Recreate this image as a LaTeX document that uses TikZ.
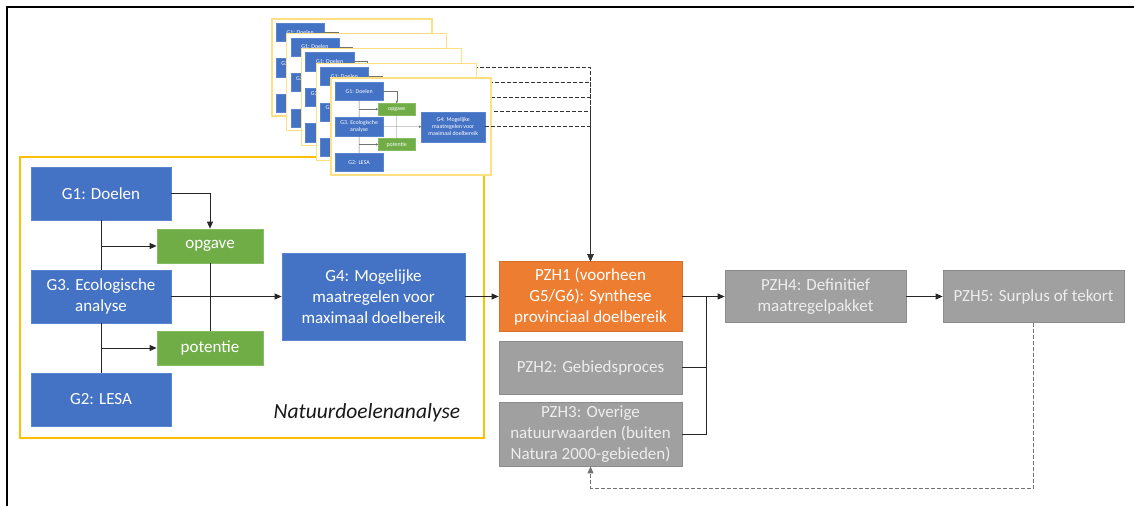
\documentclass[tikz,border=0pt]{standalone}
\usepackage{fontspec}
\setmainfont{Carlito}
\usetikzlibrary{arrows.meta,calc}
\definecolor{gblue}{HTML}{4472C4}
\definecolor{gbluebd}{HTML}{5B84CF}
\definecolor{ggreen}{HTML}{70AD47}
\definecolor{ggreenbd}{HTML}{86BC62}
\definecolor{gorange}{HTML}{ED7D31}
\definecolor{ggray}{HTML}{A0A0A0}
\definecolor{ggraybd}{HTML}{8C8C8C}
\definecolor{gyellow}{HTML}{FFC000}
\definecolor{gyellowlt}{HTML}{FFDF80}
\newcommand\tOpgave{opgave}
\newcommand\tPotentie{potentie}
\newcommand\tGfour{G4: Mogelijke\\maatregelen voor\\maximaal doelbereik}
\newcommand\ndadiagram{%
  \node[bbox] (G1) at (70,26.5) {G1: Doelen};
  \node[gbox] (opgave) at (179,79) {\tOpgave};
  \node[bbox] (G3) at (70,129.5) {G3. Ecologische\\analyse};
  \node[gbox] (potentie) at (179,181) {\tPotentie};
  \node[bbox] (G2) at (70,232.5) {G2: LESA};
  \node[bbox, minimum width=183, minimum height=87] (G4) at (342.5,129.5) {\tGfour};
  \draw[conn] (G1) -- (G3);
  \draw[conn] (G3) -- (G2);
  \draw[conn,arr] (G1.south |- opgave.west) -- (opgave.west);
  \draw[conn,arr] (G3.south |- potentie.west) -- (potentie.west);
  \draw[conn,arr] (G1.east) -| (opgave.north);
  \draw[conn] (opgave) -- (potentie);
  \draw[conn,arr] (G3) -- (G4);
}
\tikzset{
  boxbase/.style={text=white, align=center, inner sep=0pt, line width=0.8pt,
    font=\fontsize{17}{20.7}\selectfont},
  bbox/.style={boxbase, fill=gblue, draw=gbluebd, minimum width=140, minimum height=53},
  gbox/.style={boxbase, fill=ggreen, draw=ggreenbd, minimum width=106, minimum height=34},
  pbox/.style={boxbase, fill=ggray, draw=ggraybd, text=white!93!black, minimum width=183, minimum height=53},
  obox/.style={boxbase, fill=gorange, draw=gorange!90!black, minimum width=183, minimum height=70},
  conn/.style={draw=black!85, line width=0.8pt},
  arr/.style={-{Triangle[length=7pt,width=6pt]}},
  mframe/.style={draw=gyellowlt, fill=white, line width=1.1pt, minimum width=160, minimum height=97, inner sep=0pt},
  topdash/.style={draw=black!80, line width=0.9pt, dash pattern=on 4pt off 2pt},
  fbdash/.style={draw=black!55, line width=0.9pt, dash pattern=on 4pt off 2pt},
}
\begin{document}
\begin{tikzpicture}[x=1pt,y=-1pt]
\useasboundingbox (0,0) rectangle (1134,506);
\fill[white] (0,0) rectangle (1134,506);
% outer frame lines
\draw[line width=1.4pt, black] (7,506) -- (7,7) -- (1134,7);
% Natuurdoelenanalyse box
\node[draw=gyellow, line width=1.3pt, minimum width=464, minimum height=281, inner sep=0pt] (nda) at (252,297.5) {};
\node[font=\fontsize{21.5}{25}\selectfont\itshape, text=black!90] (ndalabel) at (367,412.5) {Natuurdoelenanalyse};
\begin{scope}[shift={(31,167)}]
  \ndadiagram
\end{scope}
% PZH nodes
\node[obox] (PZH1) at (590.5,296.5) {PZH1 (voorheen\\G5/G6): Synthese\\provinciaal doelbereik};
\node[pbox] (PZH2) at (590.5,367.5) {PZH2: Gebiedsproces};
\node[pbox, minimum height=64] (PZH3) at (590.5,434) {PZH3: Overige\\natuurwaarden (buiten\\Natura 2000-gebieden)};
\node[pbox, minimum width=181, minimum height=52] (PZH4) at (815.5,296.5) {PZH4: Definitief\\maatregelpakket};
\node[pbox, minimum width=181, minimum height=52] (PZH5) at (1033.5,296.5) {PZH5: Surplus of tekort};
\draw[conn,arr] (G4) -- (PZH1);
\coordinate (J) at (706,296.5);
\draw[conn] (PZH2.east) -| (J);
\draw[conn] (PZH3.east) -| (J);
\draw[conn,arr] (PZH1) -- (PZH4);
\draw[conn,arr] (PZH4) -- (PZH5);
\coordinate (FB) at (590.5,488);
\draw[fbdash,arr] (PZH5.south) |- (FB) -- (PZH3.south);
% stack of miniature diagrams (texts hidden behind the front frame are left empty)
\foreach \k in {1,...,5}{
  \pgfmathsetmacro\fx{272+14.75*(\k-1)}
  \pgfmathsetmacro\fy{19+14.75*(\k-1)}
  \ifnum\k<5
    \renewcommand\tOpgave{}\renewcommand\tPotentie{}\renewcommand\tGfour{}%
  \else
    \renewcommand\tOpgave{opgave}\renewcommand\tPotentie{potentie}%
    \renewcommand\tGfour{G4: Mogelijke\\maatregelen voor\\maximaal doelbereik}%
  \fi
  \node[mframe] (frame\k) at (\fx+80,\fy+48.5) {};
  \begin{scope}[name prefix=m\k-, shift={(\fx+4,\fy+4)}, scale=0.345, transform shape,
      conn/.style={draw=black!55, line width=0.35pt},
      arr/.style={-{Triangle[length=2.4pt,width=2.1pt]}},
      bbox/.append style={line width=0.3pt},
      gbox/.append style={line width=0.3pt}]
    \ndadiagram
  \end{scope}
  \draw[topdash,arr] (m\k-G4.east) -| (PZH1.north);
}
\end{tikzpicture}
\end{document}
